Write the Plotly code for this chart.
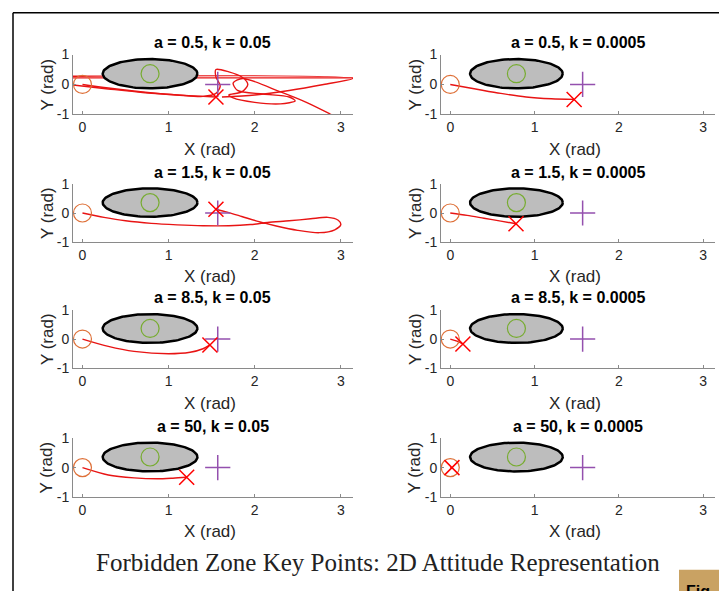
import numpy as np
import plotly.graph_objects as go

W, H = 719, 591

# ---------------- data ----------------
TITLES = ["a = 0.5, k = 0.05", "a = 0.5, k = 0.0005",
          "a = 1.5, k = 0.05", "a = 1.5, k = 0.0005",
          "a = 8.5, k = 0.05", "a = 8.5, k = 0.0005",
          "a = 50, k = 0.05", "a = 50, k = 0.0005"]

START = [0.0, 0.0]
TARGET = [1.5708, 0.0]
ZONE_CENTER = [0.785, 0.36]
ZONE_SEMI = [0.55, 0.49]

X_TICKS = [0, 1, 2, 3]
X_TICK_TEXT = ["0", "1", "2", "3"]
Y_TICKS = [-1, 0, 1]
Y_TICK_TEXT = ["-1", "0", "1"]
X_RANGE = [-0.11, 3.1416]
Y_RANGE = [-1, 1]

# trajectories (None = wrap-around break)
TRAJ_X = [
    [0.0, 0.3, 0.7, 1.1, 1.4, 1.55, 1.6, 1.55, 1.55, 1.7, 1.85, 1.92, 1.85, 1.7, 1.75, 2.0, 2.3, 2.47,
     2.4, 2.1, 1.8, 1.75, 1.86, 2.3, 2.6, 2.87, 2.95, None,
     1.62, 2.0, 2.4, 2.8, 3.1416, -3.1416, None, 3.1416, -3.1416, None,
     -0.11, 0.3, 0.7, 1.1, 1.4, 1.55],
    [0.0, 0.3, 0.6, 0.9, 1.2, 1.47],
    [0.0, 0.25, 0.5, 0.8, 1.1, 1.4, 1.7, 1.95, 2.15, 2.4, 2.65, 2.85, 2.97, 3.0, 2.93, 2.75, 2.5,
     2.25, 2.05, 1.85, 1.68, 1.55],
    [0.0, 0.2, 0.4, 0.6, 0.78],
    [0.0, 0.3, 0.6, 1.0, 1.25, 1.4, 1.48],
    [0.0, 0.08, 0.15],
    [0.0, 0.3, 0.6, 0.87, 1.05, 1.21],
    [0.0, 0.02],
]
TRAJ_Y = [
    [0.0, -0.12, -0.25, -0.35, -0.4, -0.3, -0.05, 0.25, 0.5, 0.42, 0.25, 0.0, -0.25, -0.35, -0.45, -0.6,
     -0.65, -0.55, -0.42, -0.32, -0.2, 0.05, 0.2, -0.25, -0.6, -0.98, -1.1, None,
     -0.42, -0.35, -0.2, 0.0, 0.2, 0.2, None, 0.22, 0.22, None,
     -0.02, -0.15, -0.27, -0.35, -0.4, -0.42],
    [0.0, -0.15, -0.3, -0.42, -0.48, -0.5],
    [0.0, -0.15, -0.27, -0.36, -0.41, -0.44, -0.44, -0.4, -0.33, -0.27, -0.2, -0.15, -0.25, -0.4,
     -0.58, -0.68, -0.6, -0.45, -0.3, -0.12, 0.03, 0.13],
    [0.0, -0.08, -0.18, -0.28, -0.37],
    [0.0, -0.25, -0.42, -0.5, -0.45, -0.33, -0.2],
    [0.0, -0.07, -0.17],
    [0.0, -0.25, -0.35, -0.38, -0.36, -0.33],
    [0.0, 0.0],
]

# ---------------- layout geometry (reference pixels) ----------------
COLS = [(73, 353), (441, 715)]
ROWS = [(53, 113), (183, 241), (309, 368), (438, 497)]

# the viewer maps figure y-pixels as  shown = 0.9764 * y + 6.26 ; compensate
VS, VO = 0.9764, 6.26


def px(x):
    return x / W


def py(y):
    return 1 - ((y - VO) / VS) / H


fig = go.Figure()
annotations = []
layout = {}

theta = np.linspace(0, 2 * np.pi, 121)
ell_x = ZONE_CENTER[0] + ZONE_SEMI[0] * np.cos(theta)
ell_y = ZONE_CENTER[1] + ZONE_SEMI[1] * np.sin(theta)

SANS = "Liberation Sans, Arial, sans-serif"
TICKFONT = dict(family=SANS, size=14, color="#262626")
LABFONT = dict(family=SANS, size=17, color="#262626")
TITFONT = dict(family=SANS, size=16, color="#000000")

for i in range(8):
    r, c = divmod(i, 2)
    n = i + 1
    xa = "x" if n == 1 else f"x{n}"
    ya = "y" if n == 1 else f"y{n}"
    xl, xr = COLS[c]
    yt, yb = ROWS[r]
    layout["xaxis" if n == 1 else f"xaxis{n}"] = dict(
        domain=[px(xl), px(xr)], anchor=ya, range=X_RANGE, tickvals=X_TICKS, ticktext=X_TICK_TEXT,
        showgrid=False, zeroline=False, showline=True, linecolor="#8a8a8a", linewidth=1,
        ticks="inside", ticklen=3, tickcolor="#8a8a8a", tickfont=TICKFONT, fixedrange=True)
    layout["yaxis" if n == 1 else f"yaxis{n}"] = dict(
        domain=[py(yb), py(yt)], anchor=xa, range=Y_RANGE, tickvals=Y_TICKS, ticktext=Y_TICK_TEXT,
        showgrid=False, zeroline=False, showline=True, linecolor="#8a8a8a", linewidth=1,
        ticks="inside", ticklen=3, tickcolor="#8a8a8a", tickfont=TICKFONT, fixedrange=True)

    tx, ty = TRAJ_X[i], TRAJ_Y[i]
    fig.add_trace(go.Scatter(x=tx, y=ty, mode="lines", xaxis=xa, yaxis=ya,
                             line=dict(color="#e81414", width=1.4, shape="spline", smoothing=0.8),
                             connectgaps=False, showlegend=False, hoverinfo="skip"))
    fig.add_trace(go.Scatter(x=ell_x, y=ell_y, mode="lines", fill="toself", fillcolor="#bdbdbd",
                             line=dict(color="#000000", width=2.5), xaxis=xa, yaxis=ya,
                             showlegend=False, hoverinfo="skip"))
    fig.add_trace(go.Scatter(x=[START[0]], y=[START[1]], mode="markers", xaxis=xa, yaxis=ya,
                             marker=dict(symbol="circle-open", size=18, color="#DE7038",
                                         line=dict(color="#DE7038", width=1.2)),
                             cliponaxis=False, showlegend=False))
    fig.add_trace(go.Scatter(x=[ZONE_CENTER[0]], y=[ZONE_CENTER[1]], mode="markers", xaxis=xa, yaxis=ya,
                             marker=dict(symbol="circle-open", size=18, color="#77AC30",
                                         line=dict(color="#77AC30", width=1.2)),
                             cliponaxis=False, showlegend=False))
    fig.add_trace(go.Scatter(x=[TARGET[0]], y=[TARGET[1]], mode="markers", xaxis=xa, yaxis=ya,
                             marker=dict(symbol="cross-thin-open", size=18, color="#9450AE",
                                         line=dict(color="#9450AE", width=1.5)),
                             cliponaxis=False, showlegend=False))
    fx = [v for v in tx if v is not None][-1]
    fy = [v for v in ty if v is not None][-1]
    fig.add_trace(go.Scatter(x=[fx], y=[fy], mode="markers", xaxis=xa, yaxis=ya,
                             marker=dict(symbol="x-thin-open", size=15, color="#ff0000",
                                         line=dict(color="#ff0000", width=1.5)),
                             cliponaxis=False, showlegend=False))

    cx = (xl + xr) / 2
    annotations.append(dict(text=f"<b>{TITLES[i]}</b>", x=px(cx), y=py(yt - 12), xref="paper", yref="paper",
                            showarrow=False, font=TITFONT, xanchor="center", yanchor="middle"))
    annotations.append(dict(text="X (rad)", x=px(cx - 3), y=py(yb + 35), xref="paper", yref="paper",
                            showarrow=False, font=LABFONT, xanchor="center", yanchor="middle"))
    annotations.append(dict(text="Y (rad)", x=px(xl - 26), y=py((yt + yb) / 2), xref="paper", yref="paper",
                            showarrow=False, font=LABFONT, xanchor="center", yanchor="middle", textangle=-90))

annotations.append(dict(text="Forbidden Zone Key Points: 2D Attitude Representation",
                        x=px(378), y=py(563), xref="paper", yref="paper", showarrow=False,
                        font=dict(family="Liberation Serif, Times New Roman, serif", size=25, color="#222222"),
                        xanchor="center", yanchor="middle"))
annotations.append(dict(text="<b>Fig.</b>", x=px(684), y=py(581), xref="paper", yref="paper", showarrow=False,
                        font=dict(family=SANS, size=16, color="#000000"),
                        xanchor="left", yanchor="top"))

shapes = [
    dict(type="line", xref="paper", yref="paper", x0=px(13), x1=1, y0=py(11), y1=py(11),
         line=dict(color="#000000", width=1.5)),
    dict(type="line", xref="paper", yref="paper", x0=px(13), x1=px(13), y0=py(11), y1=py(595),
         line=dict(color="#000000", width=1.5)),
    dict(type="rect", xref="paper", yref="paper", x0=px(679), x1=1, y0=py(595), y1=py(570),
         fillcolor="#C9A263", line=dict(width=0), layer="below"),
]

fig.update_layout(width=W, height=H, autosize=False, margin=dict(l=0, r=0, t=0, b=0, pad=0),
                  paper_bgcolor="white", plot_bgcolor="white",
                  annotations=annotations, shapes=shapes, **layout)
fig.write_html("out.html",
               config={"displayModeBar": False, "responsive": False},
               default_width="719px", default_height="591px",
               post_script="document.body.style.margin='0';document.body.style.overflow='hidden';")
